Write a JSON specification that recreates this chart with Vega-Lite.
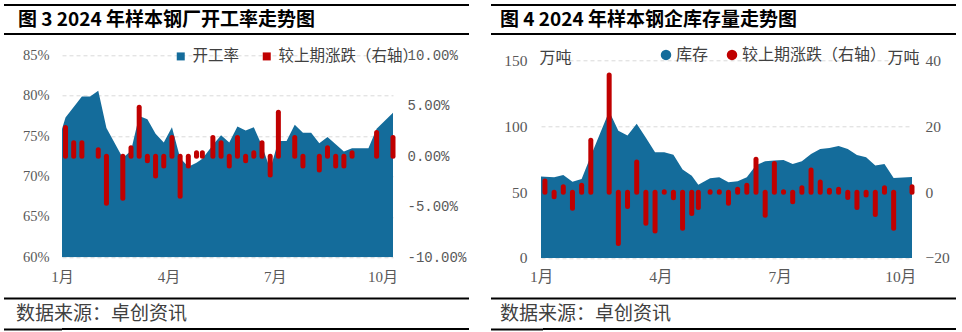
{
  "$schema": "https://vega.github.io/schema/vega-lite/v6.json",
  "background": "white",
  "padding": {"left": 3, "top": 4, "right": 0, "bottom": 0},
  "config": {
    "view": {"stroke": null},
    "axis": {"domain": false, "ticks": false, "labelColor": "#595959", "gridColor": "#D9D9D9", "gridDash": [4, 3], "gridWidth": 1}
  },
  "spacing": 11.3,
  "resolve": {"scale": {"color": "independent"}, "legend": {"color": "independent"}},
  "vconcat": [
    {
      "spacing": 20,
      "hconcat": [
        {
          "width": 407, "height": 29,
          "data": {"values": [{"t": "图 3 2024 年样本钢厂开工率走势图"}]},
          "layer": [
            {"mark": {"type": "rule", "strokeWidth": 2, "color": "#000000"},
             "encoding": {"y": {"datum": 1, "type": "quantitative", "scale": {"domain": [0, 1]},
               "axis": {"values": [0, 1], "labels": false, "domain": false, "grid": false, "ticks": true, "tickSize": 58, "tickWidth": 2, "tickColor": "#000000", "translate": 0, "minExtent": 58, "maxExtent": 58,
                        "title": "图 3 2024 年样本钢厂开工率走势图", "titleAngle": 0, "titleX": -44, "titleY": 14.5, "titleAlign": "left", "titleBaseline": "middle",
                        "titleFont": "Noto Sans CJK SC", "titleFontSize": 19, "titleFontWeight": "bold", "titleColor": "#000000"}}}},
            {"mark": {"type": "rule", "strokeWidth": 2, "color": "#000000"}, "encoding": {"y": {"datum": 0, "type": "quantitative"}}}
          ]
        },
        {
          "width": 413, "height": 29,
          "data": {"values": [{"t": "图 4 2024 年样本钢企库存量走势图"}]},
          "layer": [
            {"mark": {"type": "rule", "strokeWidth": 2, "color": "#000000"},
             "encoding": {"y": {"datum": 1, "type": "quantitative", "scale": {"domain": [0, 1]},
               "axis": {"values": [0, 1], "labels": false, "domain": false, "grid": false, "ticks": true, "tickSize": 52, "tickWidth": 2, "tickColor": "#000000", "translate": 0, "minExtent": 52, "maxExtent": 52,
                        "title": "图 4 2024 年样本钢企库存量走势图", "titleAngle": 0, "titleX": -43, "titleY": 14.5, "titleAlign": "left", "titleBaseline": "middle",
                        "titleFont": "Noto Sans CJK SC", "titleFontSize": 19, "titleFontWeight": "bold", "titleColor": "#000000"}}}},
            {"mark": {"type": "rule", "strokeWidth": 2, "color": "#000000"}, "encoding": {"y": {"datum": 0, "type": "quantitative"}}}
          ]
        }
      ]
    },
    {
      "spacing": 20,
      "resolve": {"scale": {"color": "independent"}, "legend": {"color": "independent"}},
      "hconcat": [
        {
          "width": 331, "height": 202,
          "data": {"values": [
            {"date": "2023-12-28", "rate": 74.0, "chg": null},
            {"date": "2024-01-04", "rate": 77.3, "chg": 2.85},
            {"date": "2024-01-11", "rate": 78.6, "chg": 1.35},
            {"date": "2024-01-18", "rate": 79.9, "chg": 1.35},
            {"date": "2024-01-25", "rate": 79.9, "chg": null},
            {"date": "2024-02-01", "rate": 80.6, "chg": 0.65},
            {"date": "2024-02-08", "rate": 76.0, "chg": -4.65},
            {"date": "2024-02-22", "rate": 72.3, "chg": -4.15},
            {"date": "2024-02-29", "rate": 73.2, "chg": 0.85},
            {"date": "2024-03-07", "rate": 77.5, "chg": 4.85},
            {"date": "2024-03-14", "rate": 77.1, "chg": -0.45},
            {"date": "2024-03-21", "rate": 75.3, "chg": -1.95},
            {"date": "2024-03-28", "rate": 74.2, "chg": -0.95},
            {"date": "2024-04-04", "rate": 76.1, "chg": 1.85},
            {"date": "2024-04-11", "rate": 72.3, "chg": -3.95},
            {"date": "2024-04-18", "rate": 71.2, "chg": -0.95},
            {"date": "2024-04-25", "rate": 71.7, "chg": 0.35},
            {"date": "2024-04-30", "rate": 72.2, "chg": 0.35},
            {"date": "2024-05-09", "rate": 73.9, "chg": 1.85},
            {"date": "2024-05-16", "rate": 75.1, "chg": 1.35},
            {"date": "2024-05-23", "rate": 74.2, "chg": -0.95},
            {"date": "2024-05-30", "rate": 76.2, "chg": 1.85},
            {"date": "2024-06-06", "rate": 75.7, "chg": -0.45},
            {"date": "2024-06-13", "rate": 76.1, "chg": 0.35},
            {"date": "2024-06-20", "rate": 73.8, "chg": 1.35},
            {"date": "2024-06-27", "rate": 70.9, "chg": -1.85},
            {"date": "2024-07-04", "rate": 74.4, "chg": 4.35},
            {"date": "2024-07-11", "rate": 74.4, "chg": null},
            {"date": "2024-07-18", "rate": 76.4, "chg": 1.85},
            {"date": "2024-07-25", "rate": 75.4, "chg": -0.95},
            {"date": "2024-08-01", "rate": 75.4, "chg": null},
            {"date": "2024-08-08", "rate": 74.1, "chg": -1.35},
            {"date": "2024-08-15", "rate": 74.9, "chg": 0.85},
            {"date": "2024-08-22", "rate": 74.0, "chg": -0.95},
            {"date": "2024-08-29", "rate": 73.1, "chg": -0.95},
            {"date": "2024-09-05", "rate": 73.5, "chg": 0.35},
            {"date": "2024-09-12", "rate": 73.5, "chg": null},
            {"date": "2024-09-19", "rate": 73.5, "chg": null},
            {"date": "2024-09-26", "rate": 75.9, "chg": 2.35},
            {"date": "2024-10-10", "rate": 77.9, "chg": 1.85}
          ]},
          "layer": [
            {
              "transform": [{"filter": "isValid(datum.rate)"}],
              "mark": {"type": "area", "clip": true, "opacity": 1},
              "encoding": {
                "x": {"field": "date", "type": "temporal",
                      "scale": {"type": "utc", "domain": [{"year": 2024, "month": 1, "date": 1, "utc": true}, {"year": 2024, "month": 10, "date": 10, "utc": true}]},
                      "axis": {"title": null, "values": [{"year": 2024, "month": 1, "date": 1, "utc": true}, {"year": 2024, "month": 4, "date": 1, "utc": true}, {"year": 2024, "month": 7, "date": 1, "utc": true}, {"year": 2024, "month": 10, "date": 1, "utc": true}],
                               "labelExpr": "(utcmonth(datum.value) + 1) + '月'", "labelFlush": false, "labelOverlap": false, "grid": false,
                               "labelPadding": 12, "labelFont": "Liberation Serif, Noto Sans CJK SC", "labelFontSize": 15}},
                "y": {"field": "rate", "type": "quantitative", "scale": {"domain": [60, 85], "zero": false, "nice": false},
                      "axis": {"title": null, "values": [60, 65, 70, 75, 80, 85], "labelExpr": "datum.value + '%'", "grid": true,
                               "labelPadding": 13, "labelFont": "Liberation Serif", "labelFontSize": 14.5, "minExtent": 58, "maxExtent": 58}},
                "y2": {"datum": 60},
                "color": {"datum": "开工率", "type": "nominal",
                          "scale": {"domain": ["开工率", "较上期涨跌（右轴）"], "range": ["#146C9B", "#C00000"]},
                          "legend": {"title": null, "orient": "none", "legendX": 111, "legendY": -7, "direction": "horizontal",
                                     "symbolType": "square", "symbolSize": 64, "symbolStrokeWidth": 0, "symbolOpacity": 1,
                                     "labelFont": "Noto Sans CJK SC", "labelFontSize": 15.5, "labelColor": "#404040",
                                     "labelOffset": 4, "columnPadding": 19, "labelLimit": 300}}
              }
            },
            {
              "transform": [{"filter": "isValid(datum.chg)"}],
              "mark": {"type": "rule", "color": "#C00000", "strokeWidth": 5, "strokeCap": "round"},
              "encoding": {
                "x": {"field": "date", "type": "temporal", "scale": {"type": "utc"}},
                "y": {"field": "chg", "type": "quantitative", "scale": {"domain": [-10, 10], "nice": false},
                      "axis": {"title": null, "orient": "right", "values": [-10, -5, 0, 5, 10], "grid": false,
                               "labelExpr": "(datum.value < 0 ? '-' : '') + format(abs(datum.value), '.2f') + '%'",
                               "labelPadding": 14, "labelFont": "Liberation Mono", "labelFontSize": 14, "minExtent": 76, "maxExtent": 76}},
                "y2": {"datum": 0}
              }
            }
          ],
          "resolve": {"scale": {"y": "independent"}}
        },
        {
          "width": 371, "height": 202.6,
          "data": {"values": [
            {"date": "2023-12-28", "stock": 62.0, "chg": null},
            {"date": "2024-01-04", "stock": 61.7, "chg": 3.4},
            {"date": "2024-01-11", "stock": 61.3, "chg": -1.4},
            {"date": "2024-01-18", "stock": 63.0, "chg": 1.6},
            {"date": "2024-01-25", "stock": 57.8, "chg": -4.9},
            {"date": "2024-02-01", "stock": 60.0, "chg": 2.1},
            {"date": "2024-02-08", "stock": 77.5, "chg": 15.8},
            {"date": "2024-02-22", "stock": 111.5, "chg": 35.6},
            {"date": "2024-02-29", "stock": 96.7, "chg": -15.6},
            {"date": "2024-03-07", "stock": 93.0, "chg": -4.4},
            {"date": "2024-03-14", "stock": 102.0, "chg": 9.2},
            {"date": "2024-03-21", "stock": 91.3, "chg": -9.5},
            {"date": "2024-03-28", "stock": 80.3, "chg": -11.8},
            {"date": "2024-04-04", "stock": 80.3, "chg": 0.1},
            {"date": "2024-04-11", "stock": 78.5, "chg": -1.7},
            {"date": "2024-04-18", "stock": 67.3, "chg": -11.0},
            {"date": "2024-04-25", "stock": 62.5, "chg": -6.5},
            {"date": "2024-04-30", "stock": 55.7, "chg": -4.7},
            {"date": "2024-05-09", "stock": 60.6, "chg": 0.1},
            {"date": "2024-05-16", "stock": 61.3, "chg": 0.1},
            {"date": "2024-05-23", "stock": 57.5, "chg": -3.4},
            {"date": "2024-05-30", "stock": 58.3, "chg": 0.9},
            {"date": "2024-06-06", "stock": 61.3, "chg": 2.1},
            {"date": "2024-06-13", "stock": 70.5, "chg": 10.0},
            {"date": "2024-06-20", "stock": 73.5, "chg": -7.0},
            {"date": "2024-06-27", "stock": 74.0, "chg": 8.7},
            {"date": "2024-07-04", "stock": 74.5, "chg": 0.1},
            {"date": "2024-07-11", "stock": 71.4, "chg": -2.9},
            {"date": "2024-07-18", "stock": 73.5, "chg": 1.3},
            {"date": "2024-07-25", "stock": 79.0, "chg": 6.7},
            {"date": "2024-08-01", "stock": 82.8, "chg": 3.1},
            {"date": "2024-08-08", "stock": 83.6, "chg": 0.6},
            {"date": "2024-08-15", "stock": 85.1, "chg": 0.9},
            {"date": "2024-08-22", "stock": 82.8, "chg": -1.6},
            {"date": "2024-08-29", "stock": 78.3, "chg": -4.7},
            {"date": "2024-09-05", "stock": 76.5, "chg": -0.9},
            {"date": "2024-09-12", "stock": 70.2, "chg": -6.8},
            {"date": "2024-09-19", "stock": 71.4, "chg": 1.3},
            {"date": "2024-09-26", "stock": 60.8, "chg": -11.0},
            {"date": "2024-10-10", "stock": 61.5, "chg": 1.6}
          ]},
          "layer": [
            {
              "transform": [{"filter": "isValid(datum.stock)"}],
              "mark": {"type": "area", "clip": true, "opacity": 1},
              "encoding": {
                "x": {"field": "date", "type": "temporal",
                      "scale": {"type": "utc", "domain": [{"year": 2024, "month": 1, "date": 1, "utc": true}, {"year": 2024, "month": 10, "date": 10, "utc": true}]},
                      "axis": {"title": null, "values": [{"year": 2024, "month": 1, "date": 1, "utc": true}, {"year": 2024, "month": 4, "date": 1, "utc": true}, {"year": 2024, "month": 7, "date": 1, "utc": true}, {"year": 2024, "month": 10, "date": 1, "utc": true}],
                               "labelExpr": "(utcmonth(datum.value) + 1) + '月'", "labelFlush": false, "labelOverlap": false, "grid": false,
                               "labelPadding": 12, "labelFont": "Liberation Serif, Noto Sans CJK SC", "labelFontSize": 15.5}},
                "y": {"field": "stock", "type": "quantitative", "scale": {"domain": [0, 154.03], "nice": false},
                      "axis": {"values": [0, 50, 100, 150], "grid": true,
                               "labelPadding": 14, "labelFont": "Liberation Serif", "labelFontSize": 15.5, "minExtent": 52, "maxExtent": 52,
                               "title": "万吨", "titleAngle": 0, "titleX": -2, "titleY": 2.3, "titleAlign": "left", "titleBaseline": "middle",
                               "titleFont": "Noto Sans CJK SC", "titleFontSize": 16, "titleFontWeight": "normal", "titleColor": "#404040"}},
                "y2": {"datum": 0},
                "color": {"datum": "库存", "type": "nominal",
                          "scale": {"domain": ["库存", "较上期涨跌（右轴）"], "range": ["#146C9B", "#C00000"]},
                          "legend": {"title": null, "orient": "none", "legendX": 117, "legendY": -8.4, "direction": "horizontal",
                                     "symbolType": "circle", "symbolSize": 110, "symbolStrokeWidth": 0, "symbolOpacity": 1,
                                     "labelFont": "Noto Sans CJK SC", "labelFontSize": 16, "labelColor": "#404040",
                                     "labelOffset": 2, "columnPadding": 15, "labelLimit": 300}}
              }
            },
            {
              "transform": [{"filter": "isValid(datum.chg)"}],
              "mark": {"type": "rule", "color": "#C00000", "strokeWidth": 5, "strokeCap": "round"},
              "encoding": {
                "x": {"field": "date", "type": "temporal", "scale": {"type": "utc"}},
                "y": {"field": "chg", "type": "quantitative", "scale": {"domain": [-20, 41.61], "nice": false},
                      "axis": {"orient": "right", "values": [-20, 0, 20, 40], "grid": false,
                               "labelPadding": 13, "labelFont": "Liberation Serif", "labelFontSize": 15.5,
                               "title": "万吨", "titleAngle": 0, "titleX": 7, "titleY": 2.3, "titleAlign": "right", "titleBaseline": "middle",
                               "titleFont": "Noto Sans CJK SC", "titleFontSize": 16, "titleFontWeight": "normal", "titleColor": "#404040"}},
                "y2": {"datum": 0}
              }
            }
          ],
          "resolve": {"scale": {"y": "independent"}}
        }
      ]
    },
    {
      "spacing": 20,
      "hconcat": [
        {
          "width": 407, "height": 30.5,
          "data": {"values": [{"t": "数据来源：卓创资讯"}]},
          "layer": [
            {"mark": {"type": "rule", "strokeWidth": 2, "color": "#000000"},
             "encoding": {"y": {"datum": 1, "type": "quantitative", "scale": {"domain": [0, 1]},
               "axis": {"values": [0, 1], "labels": false, "domain": false, "grid": false, "ticks": true, "tickSize": 58, "tickWidth": 2, "tickColor": "#000000", "translate": 0, "minExtent": 58, "maxExtent": 58,
                        "title": "数据来源：卓创资讯", "titleAngle": 0, "titleX": -46, "titleY": 15.25, "titleAlign": "left", "titleBaseline": "middle",
                        "titleFont": "Noto Sans CJK SC", "titleFontSize": 19, "titleFontWeight": "normal", "titleColor": "#404040"}}}},
            {"mark": {"type": "rule", "strokeWidth": 2, "color": "#000000"}, "encoding": {"y": {"datum": 0, "type": "quantitative"}}}
          ]
        },
        {
          "width": 413, "height": 30.5,
          "data": {"values": [{"t": "数据来源：卓创资讯"}]},
          "layer": [
            {"mark": {"type": "rule", "strokeWidth": 2, "color": "#000000"},
             "encoding": {"y": {"datum": 1, "type": "quantitative", "scale": {"domain": [0, 1]},
               "axis": {"values": [0, 1], "labels": false, "domain": false, "grid": false, "ticks": true, "tickSize": 52, "tickWidth": 2, "tickColor": "#000000", "translate": 0, "minExtent": 52, "maxExtent": 52,
                        "title": "数据来源：卓创资讯", "titleAngle": 0, "titleX": -43, "titleY": 15.25, "titleAlign": "left", "titleBaseline": "middle",
                        "titleFont": "Noto Sans CJK SC", "titleFontSize": 19, "titleFontWeight": "normal", "titleColor": "#404040"}}}},
            {"mark": {"type": "rule", "strokeWidth": 2, "color": "#000000"}, "encoding": {"y": {"datum": 0, "type": "quantitative"}}}
          ]
        }
      ]
    }
  ]
}
